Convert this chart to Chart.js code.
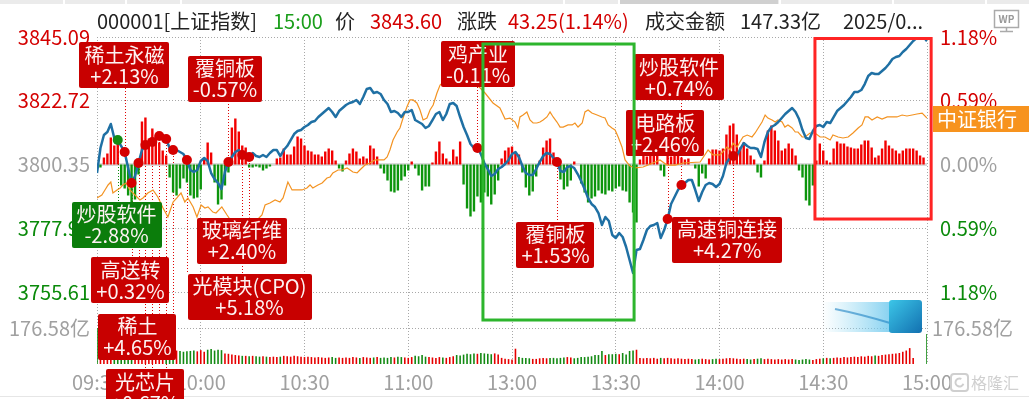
<!DOCTYPE html>
<html><head><meta charset="utf-8">
<script src="https://cdn.jsdelivr.net/npm/chart.js@4"></script>
<style>html,body{margin:0;padding:0;background:#fff;overflow:hidden}canvas{display:block}</style>
</head><body>
<canvas id="c" width="1029" height="399"></canvas>
<script>
// ---------------- data ----------------
const indexCode = '000001';
const indexName = '上证指数';
const quoteTime = '15:00';
const closePrice = 3843.60;
const changeAbs = 43.25;
const changePct = 1.14;
const turnover = 147.33;
const dateText = '2025/0...';
const prevClose = 3800.35;
const priceTicks = [3845.09, 3822.72, 3800.35, 3777.98, 3755.61];
const volTick = 176.58;
const timeTicks = ['09:30','10:00','10:30','11:00','13:00','13:30','14:00','14:30','15:00'];
const benchName = '中证银行';

// 上证指数 minute prices (09:30 .. 15:00, 241 points)
const price = [
3797.36,3806.14,3810.70,3811.75,3814.56,3809.65,3808.94,3806.84,3804.73,3799.12,
3793.86,3796.31,3800.87,3805.43,3807.19,3807.89,3808.24,3809.65,3810.35,3810.70,
3809.29,3806.14,3805.43,3805.43,3804.73,3804.03,3801.93,3798.42,3797.72,3798.42,
3801.58,3802.63,3801.58,3797.36,3795.26,3793.86,3791.75,3797.72,3801.22,3802.98,
3804.73,3805.43,3803.68,3804.38,3802.98,3804.38,3803.33,3802.98,3803.68,3802.98,
3804.38,3805.43,3805.43,3803.33,3805.43,3806.84,3808.94,3811.05,3812.10,3812.45,
3813.51,3814.21,3815.26,3815.61,3817.01,3818.07,3819.12,3820.17,3818.77,3817.01,
3819.12,3820.17,3821.23,3821.93,3822.28,3822.98,3821.58,3824.03,3826.84,3827.19,
3825.44,3825.79,3825.09,3822.98,3821.58,3818.77,3819.12,3818.42,3817.01,3818.77,
3818.77,3819.47,3815.96,3815.26,3814.56,3813.15,3813.86,3815.96,3818.07,3818.77,
3815.96,3818.07,3821.58,3821.93,3820.87,3817.01,3813.51,3810.70,3807.54,3806.14,
3806.14,3804.03,3800.87,3798.77,3796.31,3797.01,3798.77,3799.47,3800.52,3801.93,
3804.03,3804.73,3802.98,3799.82,3797.36,3796.66,3796.66,3798.77,3801.22,3803.33,
3804.38,3804.03,3802.63,3801.22,3798.07,3797.72,3799.47,3799.82,3799.12,3797.01,
3794.56,3791.75,3788.59,3786.49,3785.43,3783.33,3779.12,3781.92,3780.52,3775.61,
3774.56,3776.31,3774.91,3771.40,3766.84,3762.27,3770.34,3770.70,3773.85,3777.36,
3778.77,3779.12,3779.82,3774.56,3777.36,3781.22,3786.49,3788.94,3791.40,3793.15,
3793.86,3794.91,3794.91,3791.40,3787.54,3790.70,3793.15,3793.86,3793.50,3792.45,
3793.50,3796.31,3800.87,3802.63,3803.33,3803.33,3805.79,3807.89,3806.84,3806.14,
3806.14,3805.79,3802.98,3808.24,3811.75,3813.51,3814.21,3815.26,3816.66,3818.07,
3819.12,3820.17,3818.77,3816.31,3812.45,3809.65,3809.30,3812.10,3813.86,3814.21,
3813.51,3815.26,3814.91,3817.01,3819.12,3820.17,3821.23,3822.63,3824.03,3825.79,
3825.79,3826.49,3828.59,3831.40,3832.45,3832.10,3832.10,3833.16,3834.21,3835.61,
3837.37,3838.07,3838.42,3839.82,3840.88,3842.28,3843.68,3844.73,3845.09,3845.09,
3843.60];

// red/green strength bars around the zero line (one per minute)
const strength = [
-2,-3,7,11,27,19,24,-21,-24,-31,
-38,-35,-10,43,47,26,36,29,22,14,
9,-13,-28,-31,-24,-14,-18,-31,-34,-33,
-25,6,22,12,-18,-40,-35,-21,-8,37,
46,33,19,17,-3,-3,-2,-3,-6,-4,
-2,0,6,7,16,10,10,18,28,26,
19,14,13,10,10,8,13,16,14,4,
-4,-7,4,11,16,13,6,8,6,19,
16,8,-4,-9,-16,-27,-28,-26,-16,-12,
-6,3,-4,-11,-26,-22,-22,2,13,23,
11,6,3,15,8,23,-20,-44,-52,-47,
-32,-38,-28,-32,-40,-30,-16,6,14,17,
18,12,10,-8,-23,-31,-27,-12,4,17,
24,26,12,2,-15,-25,-22,-16,3,0,
-19,-28,-38,-34,-32,-26,-29,-30,-26,-27,
-24,-22,-26,-27,-38,-48,-58,5,9,8,
10,13,9,-6,-12,9,8,11,9,7,
5,6,0,-4,-22,-9,-14,6,15,15,
14,16,30,39,41,30,17,22,16,9,
5,-8,-13,4,34,39,34,24,14,16,
21,16,9,-6,-13,-36,-41,-21,4,21,
14,4,2,16,23,21,21,18,17,16,
16,20,24,24,17,7,9,16,24,19,
16,14,11,14,16,16,16,14,9,7,
0];

// minute turnover (亿)
const volume = [
176.58,95,88,84,90,80,78,85,82,88,
92,80,76,82,78,72,70,68,72,66,
64,70,68,66,64,60,62,64,66,62,
68,60,70,74,66,70,68,52,50,46,
44,42,40,40,38,40,38,36,38,36,
34,36,34,36,40,38,36,40,38,36,
34,36,34,32,34,32,30,32,34,30,
32,30,32,30,34,32,30,34,32,30,
32,34,30,32,30,34,32,36,34,32,
30,34,40,38,44,36,34,32,30,34,
32,30,34,38,44,42,46,50,48,52,
50,54,52,50,48,52,46,30,26,24,
22,75,34,30,30,28,25,25,28,30,
28,30,30,28,30,32,34,32,28,30,
34,34,36,38,44,44,64,44,48,48,
50,48,54,46,64,66,70,30,28,30,
28,30,26,30,28,30,28,26,28,26,
24,26,24,22,24,26,24,22,24,26,
24,26,28,30,28,26,24,26,24,22,
24,26,28,24,26,24,22,24,22,24,
22,24,22,20,22,24,22,20,24,26,
28,30,28,30,32,30,34,32,34,36,
34,38,36,40,38,42,40,44,46,48,
50,52,54,60,66,78,30,0,0,0,
147.33];

// 中证银行 (% change) sampled at minute positions
const benchMinute = [
0,1.4,2.3,3.2,4.0,4.6,5.8,6.7,7.5,8.4,
9.5,11.0,12.4,13.3,14.7,16.2,17.6,19.1,20.5,22.0,
23.1,24.3,25.4,26.3,27.8,28.9,30.1,31.2,32.1,33.5,
34.4,36.1,37.6,39.0,43.4,47.7,48.6,50.0,51.5,52.9,
53.8,55.2,56.4,57.8,59.3,60.7,61.6,62.4,63.9,65.1,
66.5,67.4,68.2,69.7,70.9,72.3,73.2,74.0,75.2,76.0,
77.5,78.9,80.4,81.8,83.0,83.9,84.7,85.6,86.8,87.6,
88.5,89.6,90.5,91.4,92.5,93.4,94.3,95.4,96.3,97.2,
98.3,99.2,102.1,106.4,110.8,112.2,114.5,116.5,118.0,119.4,
120.9,121.7,122.3,123.2,124.3,125.2,126.1,127.2,128.1,129.0,
130.1,131.0,131.9,133.0,133.9,134.8,136.2,137.4,138.2,139.1,
140.3,141.1,142.0,143.1,144.6,146.0,146.9,147.8,148.9,149.8,
150.7,151.8,152.7,154.1,155.6,157.9,160.8,162.8,164.8,167.2,
169.5,174.4,176.7,178.1,180.2,182.2,183.1,183.9,185.1,185.9,
186.8,188.0,189.4,190.3,191.2,192.3,193.2,194.0,195.2,196.1,
196.9,198.1,198.9,199.8,201.0,201.9,202.7,203.9,204.7,206.2,
207.6,209.1,210.5,212.0,212.8,214.3,215.7,217.2,218.6,220.1,
221.2,222.1,223.0,224.1,225.6,227.0,228.5,229.9,231.3,232.8,
234.2,235.7,237.1,238.6,240.0];
const benchPct = [
-0.309,-0.282,-0.235,-0.189,-0.162,-0.263,-0.235,-0.217,-0.189,-0.171,
-0.235,-0.282,-0.328,-0.309,-0.263,-0.235,-0.300,-0.402,-0.485,-0.346,
-0.309,-0.263,-0.346,-0.309,-0.392,-0.485,-0.374,-0.402,-0.392,-0.439,
-0.448,-0.392,-0.466,-0.531,-0.605,-0.466,-0.374,-0.355,-0.328,-0.346,
-0.309,-0.162,-0.235,-0.235,-0.235,-0.217,-0.189,-0.217,-0.189,-0.171,
-0.125,-0.115,-0.078,-0.051,-0.051,-0.032,-0.051,-0.069,-0.078,-0.051,
-0.005,0.014,0.042,0.042,0.042,0.069,0.134,0.226,0.300,0.337,
0.429,0.531,0.596,0.596,0.568,0.503,0.411,0.429,0.503,0.549,
0.660,0.734,0.817,0.836,0.706,0.660,0.568,0.522,0.420,0.429,
0.392,0.337,0.439,0.457,0.485,0.411,0.383,0.383,0.392,0.411,
0.439,0.485,0.439,0.392,0.346,0.346,0.365,0.365,0.383,0.346,
0.383,0.485,0.503,0.475,0.457,0.439,0.429,0.365,0.337,0.319,
0.254,0.162,0.042,-0.014,-0.032,-0.023,0.014,0.042,-0.005,-0.005,
0.014,0.023,0.134,0.088,0.088,0.162,0.134,0.199,0.162,0.208,
0.254,0.272,0.254,0.291,0.337,0.392,0.457,0.429,0.411,0.392,
0.411,0.392,0.346,0.365,0.337,0.300,0.300,0.254,0.254,0.291,
0.291,0.254,0.254,0.226,0.272,0.254,0.245,0.254,0.291,0.337,
0.365,0.439,0.439,0.411,0.439,0.420,0.439,0.439,0.439,0.457,
0.448,0.457,0.466,0.475,0.429];

// signal tags
const tagNames   = ['稀土永磁','覆铜板','鸡产业','炒股软件','电路板','高速铜连接','覆铜板','炒股软件','玻璃纤维','高送转','光模块(CPO)','稀土','光芯片'];
const tagChanges = ['+2.13%','-0.57%','-0.11%','+0.74%','+2.46%','+4.27%','+1.53%','-2.88%','+2.40%','+0.32%','+5.18%','+4.65%','+0.67%'];
const tagKind    = ['buy','buy','buy','buy','buy','buy','buy','sell','buy','buy','buy','buy','buy'];
const signalMinute = [8,38,110,169,165,184,133,6,44,10,12,26,42,18,22,14,16,20];
const signalTag    = [0,1,2,3,4,5,6,7,8,9,9,10,10,11,11,12,12,12];

// ---------------- layout (not data) ----------------
const tagBoxMinute = [7.95,37.0,110.2,168.3,164.3,182.2,132.6,5.64,41.9,9.7,44.1,11.7,13.9];
const tagBoxPrice  = [3835.26,3830.52,3835.61,3830.88,3811.23,3774.03,3772.27,3779.29,3773.68,3759.82,3754.03,3739.99,3720.52];
const greenFrame = {m0:111.6, m1:155.3, p0:3842.63, p1:3745.78};
const redFrame   = {m0:207.6, m1:241.2, p0:3844.56, p1:3781.22};
const PRICE_PANEL_FRAC = 255/327;
const VOL_TICK_FRAC = 36/327;
const STRENGTH_TOP = 127.5;

const FONT = "'Noto Sans CJK SC','Noto Sans',sans-serif";
const UP = '#d40000', DOWN = '#0a8a0a', FLAT = '#a0a0a0', GRID = '#a8a8a8';
const BLUE = '#1f70a4', ORANGE = '#f39322';
Chart.defaults.font.family = FONT;
Chart.defaults.font.size = 20;

const priceMax = priceTicks[0];
const priceMinTick = priceTicks[priceTicks.length-1];
const priceAxisMin = priceMax - (priceMax - priceMinTick) / PRICE_PANEL_FRAC;
const pctOf = v => (v - prevClose) / prevClose * 100;
const strengthMin = -STRENGTH_TOP * (prevClose - priceAxisMin) / (priceMax - prevClose);
const TAG_H = 46;
const minutes = Array.from({length: price.length}, (_, i) => i);
const tickColor = v => v > prevClose + 1e-6 ? UP : (v < prevClose - 1e-6 ? DOWN : FLAT);

function rr(ctx, x, y, w, h, r) {
  ctx.beginPath();
  ctx.moveTo(x + r, y); ctx.lineTo(x + w - r, y); ctx.quadraticCurveTo(x + w, y, x + w, y + r);
  ctx.lineTo(x + w, y + h - r); ctx.quadraticCurveTo(x + w, y + h, x + w - r, y + h);
  ctx.lineTo(x + r, y + h); ctx.quadraticCurveTo(x, y + h, x, y + h - r);
  ctx.lineTo(x, y + r); ctx.quadraticCurveTo(x, y, x + r, y); ctx.closePath();
}

const overlay = {
  id: 'overlay',
  beforeDraw(chart) {
    const ctx = chart.ctx;
    ctx.save();
    ctx.fillStyle = '#fff'; ctx.fillRect(0, 0, chart.width, chart.height);
    ctx.fillStyle = '#ebebeb'; ctx.fillRect(0, 0, chart.width, 4);
    ctx.fillStyle = '#d0d0d0'; ctx.fillRect(620, 0, 158, 4);
    ctx.fillStyle = '#fff';
    [63,125,180,563,618,779,892,985].forEach(sx => ctx.fillRect(sx, 0, 2, 4));
    ctx.fillStyle = '#e6e6e6'; ctx.fillRect(0, 396, chart.width, 1);
    ctx.restore();
  },
  beforeDatasetsDraw(chart) {
    const {ctx, chartArea: a, scales} = chart;
    const x = scales.x, y = scales.y, yv = scales.yv;
    ctx.save();
    const vy = Math.round(yv.getPixelForValue(volTick)) + 0.5;
    ctx.strokeStyle = GRID; ctx.lineWidth = 1; ctx.setLineDash([1, 2]);
    ctx.beginPath(); ctx.moveTo(a.left, vy); ctx.lineTo(a.right, vy); ctx.stroke();
    ctx.setLineDash([]);
    const zy = y.getPixelForValue(prevClose);
    ctx.strokeStyle = '#dadada'; ctx.lineWidth = 3;
    ctx.beginPath(); ctx.moveTo(a.left, zy); ctx.lineTo(a.right, zy); ctx.stroke();
    ctx.lineWidth = 1; ctx.setLineDash([1, 2]);
    signalMinute.forEach((m, i) => {
      const t = signalTag[i];
      const px = Math.round(x.getPixelForValue(m)) + 0.5;
      const py = y.getPixelForValue(price[m]);
      const by = y.getPixelForValue(tagBoxPrice[t]);
      const end = by < py ? by + TAG_H / 2 : by - TAG_H / 2;
      ctx.strokeStyle = tagKind[t] === 'sell' ? '#0a8a0a' : '#e00000';
      ctx.beginPath(); ctx.moveTo(px, py); ctx.lineTo(px, end); ctx.stroke();
    });
    ctx.restore();
  },
  afterDraw(chart) {
    const {ctx, chartArea: a, scales} = chart;
    const x = scales.x, y = scales.y, yv = scales.yv, yp = scales.yp;
    ctx.save();
    // volume tick labels
    const vy = yv.getPixelForValue(volTick);
    ctx.font = '20px ' + FONT; ctx.textBaseline = 'middle'; ctx.fillStyle = FLAT;
    ctx.textAlign = 'right'; ctx.fillText(volTick.toFixed(2) + '亿', a.left - 7, vy);
    ctx.textAlign = 'left'; ctx.fillText(volTick.toFixed(2) + '亿', a.right + 5, vy);

    // decoration icon in volume panel
    const g = ctx.createLinearGradient(822, 0, 892, 0);
    g.addColorStop(0, 'rgba(140,215,240,0)'); g.addColorStop(1, 'rgba(110,200,238,0.85)');
    ctx.fillStyle = g; ctx.fillRect(822, 302, 70, 30);
    ctx.strokeStyle = 'rgba(30,130,195,0.6)'; ctx.lineWidth = 2;
    ctx.beginPath(); ctx.moveTo(835, 309); ctx.quadraticCurveTo(860, 314, 890, 323); ctx.stroke();
    const g2 = ctx.createLinearGradient(889, 300, 922, 333);
    g2.addColorStop(0, '#3cc6e8'); g2.addColorStop(1, '#1270b0');
    ctx.fillStyle = g2; rr(ctx, 889, 300, 33, 33, 3); ctx.fill();

    // tags
    ctx.font = '20px ' + FONT; ctx.textAlign = 'center'; ctx.textBaseline = 'middle';
    tagNames.forEach((name, t) => {
      const cx = x.getPixelForValue(tagBoxMinute[t]);
      const cy = y.getPixelForValue(tagBoxPrice[t]);
      const w = Math.max(ctx.measureText(name).width, ctx.measureText(tagChanges[t]).width) + 10;
      ctx.fillStyle = tagKind[t] === 'sell' ? '#0b7d0b' : '#c80000';
      rr(ctx, Math.round(cx - w / 2), Math.round(cy - TAG_H / 2), Math.round(w), TAG_H, 2); ctx.fill();
      ctx.fillStyle = '#fdf2f2';
      ctx.fillText(name, cx, cy - 10);
      ctx.fillText(tagChanges[t], cx, cy + 11);
    });

    // highlight frames
    ctx.lineWidth = 3;
    ctx.strokeStyle = '#2db52d';
    let x0 = x.getPixelForValue(greenFrame.m0), x1 = x.getPixelForValue(greenFrame.m1);
    let y0 = y.getPixelForValue(greenFrame.p0), y1 = y.getPixelForValue(greenFrame.p1);
    ctx.strokeRect(x0, y0, x1 - x0, y1 - y0);
    ctx.strokeStyle = '#ff2424';
    x0 = x.getPixelForValue(redFrame.m0); x1 = x.getPixelForValue(redFrame.m1);
    y0 = y.getPixelForValue(redFrame.p0); y1 = y.getPixelForValue(redFrame.p1);
    ctx.strokeRect(x0, y0, x1 - x0, y1 - y0);

    // benchmark name label
    const by = yp.getPixelForValue(benchPct[benchPct.length - 1]) + 1;
    ctx.fillStyle = '#f7931e';
    ctx.fillRect(a.right + 6, Math.round(by - 13), chart.width - a.right - 6, 26);
    ctx.fillStyle = '#fff'; ctx.textAlign = 'left';
    ctx.fillText(benchName, a.right + 10, by);

    // header
    const header = [
      [indexCode + '[' + indexName + ']', 97, '#222'],
      [quoteTime, 273, '#1a9e1a'],
      ['价', 335, '#222'],
      [closePrice.toFixed(2), 370, UP],
      ['涨跌', 457, '#222'],
      [changeAbs.toFixed(2) + '(' + changePct.toFixed(2) + '%)', 508, UP],
      ['成交金额', 645, '#222'],
      [turnover.toFixed(2) + '亿', 740, '#222'],
      [dateText, 843, '#222'],
    ];
    ctx.textAlign = 'left'; ctx.textBaseline = 'middle'; ctx.font = '20px ' + FONT;
    header.forEach(([t, hx, c]) => { ctx.fillStyle = c; ctx.fillText(t, hx, 21); });

    // WP icon
    ctx.strokeStyle = '#aaa'; ctx.lineWidth = 1.5;
    ctx.strokeRect(994.5, 10.5, 24, 17);
    ctx.beginPath(); ctx.moveTo(1006.5, 28); ctx.lineTo(1006.5, 31); ctx.moveTo(1000, 31.5); ctx.lineTo(1013, 31.5); ctx.stroke();
    ctx.fillStyle = '#999'; ctx.font = 'bold 10px ' + FONT; ctx.textAlign = 'center';
    ctx.fillText('WP', 1006.5, 19.5);

    // watermark
    ctx.strokeStyle = '#cfcfcf'; ctx.lineWidth = 2;
    rr(ctx, 951, 374, 17, 17, 3); ctx.stroke();
    ctx.beginPath(); ctx.arc(959.5, 382.5, 4, 0.3, 5.2); ctx.stroke();
    ctx.fillStyle = '#d0d0d0'; ctx.font = '16px ' + FONT; ctx.textAlign = 'left';
    ctx.fillText('格隆汇', 971, 383);

    // sanity check
    const bad = [price, strength, volume].some(arr => arr.length !== 241) || benchMinute.length !== benchPct.length;
    if (bad) { ctx.fillStyle = 'magenta'; ctx.fillText('LEN ' + price.length + ' ' + strength.length + ' ' + volume.length + ' ' + benchMinute.length + ' ' + benchPct.length, 400, 200); }
    ctx.restore();
  }
};

new Chart(document.getElementById('c'), {
  type: 'line',
  data: {
    labels: minutes,
    datasets: [
      { type: 'scatter', label: 'signals', data: signalMinute.map(m => ({x: m, y: price[m]})), yAxisID: 'y',
        pointRadius: 5, pointBorderWidth: 0,
        pointBackgroundColor: signalMinute.map((m, i) => tagKind[signalTag[i]] === 'sell' ? '#138a13' : '#d40000'),
        order: 1 },
      { type: 'line', label: indexName, data: price, yAxisID: 'y', borderColor: BLUE, borderWidth: 2.5,
        pointRadius: 0, tension: 0, borderJoinStyle: 'round', order: 2 },
      { type: 'line', label: benchName, data: benchMinute.map((m, i) => ({x: m, y: benchPct[i]})), yAxisID: 'yp',
        borderColor: ORANGE, borderWidth: 1.2, pointRadius: 0, tension: 0, order: 3 },
      { type: 'bar', label: 'strength', data: strength, yAxisID: 'yb', grouped: false, maxBarThickness: 2.4,
        backgroundColor: c => c.raw >= 0 ? '#f20000' : '#0c950c', order: 4 },
      { type: 'bar', label: 'volume', data: volume, yAxisID: 'yv', grouped: false, maxBarThickness: 1.6,
        backgroundColor: c => { const i = c.dataIndex; const prev = i === 0 ? prevClose : price[i - 1]; return price[i] >= prev ? '#e60000' : '#138a13'; },
        order: 5 },
    ]
  },
  options: {
    responsive: false, animation: false, devicePixelRatio: 1, events: [],
    layout: { padding: { top: 37, left: 0, right: 0, bottom: 0 } },
    plugins: { legend: { display: false }, tooltip: { enabled: false } },
    scales: {
      x: {
        type: 'linear', min: 0, max: 240, offset: false,
        afterBuildTicks: s => { s.ticks = timeTicks.map((_, i) => ({value: i * 30})); },
        afterFit: s => { s.height = 35; },
        ticks: { autoSkip: false, maxRotation: 0, padding: 6, color: FLAT, font: { size: 20 },
                 callback: v => timeTicks[Math.round(v / 30)] },
        grid: { color: GRID, drawTicks: false, lineWidth: 1, offset: false },
        border: { display: false, dash: [1, 2] }
      },
      y: {
        position: 'left', min: priceAxisMin, max: priceMax,
        afterBuildTicks: s => { s.ticks = priceTicks.map(v => ({value: v})); },
        afterFit: s => { s.width = 97; },
        ticks: { autoSkip: false, padding: 7, font: { size: 20 }, color: c => tickColor(c.tick.value),
                 callback: v => v.toFixed(2) },
        grid: { drawTicks: false, lineWidth: 1,
                color: c => (c.tick && Math.abs(c.tick.value - prevClose) < 1e-6) ? 'rgba(0,0,0,0)' : GRID },
        border: { display: false, dash: [1, 2] }
      },
      yp: {
        position: 'right', min: pctOf(priceAxisMin), max: pctOf(priceMax),
        afterBuildTicks: s => { s.ticks = priceTicks.map(v => ({value: pctOf(v)})); },
        afterFit: s => { s.width = 102; },
        ticks: { autoSkip: false, padding: 5, font: { size: 20 },
                 color: c => tickColor(prevClose * (1 + c.tick.value / 100)),
                 callback: v => Math.abs(v).toFixed(2) + '%' },
        grid: { display: false },
        border: { display: false }
      },
      yv: { display: false, min: 0, max: volTick / VOL_TICK_FRAC },
      yb: { display: false, min: strengthMin, max: STRENGTH_TOP }
    }
  },
  plugins: [overlay]
});
</script>
</body></html>
